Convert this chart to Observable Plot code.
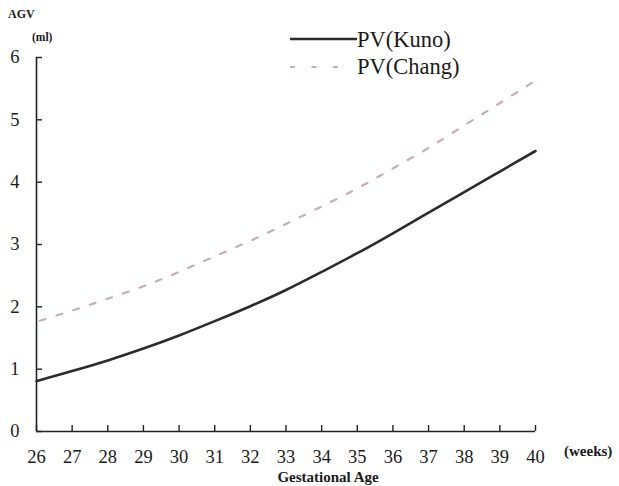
<!DOCTYPE html>
<html><head><meta charset="utf-8">
<script src="https://cdn.jsdelivr.net/npm/d3@7"></script>
<script src="https://cdn.jsdelivr.net/npm/@observablehq/plot@0.6"></script>
<style>
body{margin:0;background:#fff;}
#wrap{position:relative;width:619px;height:486px;font-family:"Liberation Serif","DejaVu Serif","Times New Roman",Times,serif;color:#1a1a1a;overflow:hidden;}
.lab{position:absolute;white-space:nowrap;line-height:1;}
#chart{position:absolute;left:0;top:0;}
</style></head><body>
<div id="wrap">
  <div id="chart"></div>
  <div class="lab" style="left:8px;top:8px;font-size:12px;font-weight:bold;">AGV</div>
  <div class="lab" style="left:32px;top:32px;font-size:11.5px;font-weight:bold;">(ml)</div>
  <div class="lab" style="left:564px;top:444px;font-size:15px;font-weight:bold;">(weeks)</div>
  <div class="lab" id="xtitle" style="left:328px;top:470px;font-size:15px;font-weight:bold;transform:translateX(-50%);">Gestational Age</div>
  <div id="legend"></div>
</div>
<script>
const weeks = [26, 27, 28, 29, 30, 31, 32, 33, 34, 35, 36, 37, 38, 39, 40];
const kuno  = [0.81, 0.97, 1.14, 1.33, 1.54, 1.77, 2.01, 2.27, 2.56, 2.86, 3.18, 3.51, 3.84, 4.17, 4.50];
const chang = [1.76, 1.94, 2.13, 2.33, 2.56, 2.81, 3.06, 3.33, 3.61, 3.90, 4.22, 4.55, 4.91, 5.27, 5.63];
const yTicks = [0, 1, 2, 3, 4, 5, 6];
const seriesNames = ["PV(Kuno)", "PV(Chang)"];

const rows = [];
weeks.forEach((w, i) => {
  rows.push({week: w, value: kuno[i], series: seriesNames[0]});
  rows.push({week: w, value: chang[i], series: seriesNames[1]});
});

const W = 619, H = 486, mL = 36, mR = 84, mT = 57, mB = 55;
const frameW = W - mL - mR, frameH = H - mT - mB;
const FONT = '"Liberation Serif","DejaVu Serif","Times New Roman",Times,serif';

const plot = Plot.plot({
  width: W, height: H,
  marginLeft: mL, marginRight: mR, marginTop: mT, marginBottom: mB,
  style: {fontFamily: FONT, fontSize: "18.5px", color: "#1a1a1a", background: "transparent"},
  x: {domain: [weeks[0], weeks[weeks.length - 1]], label: null},
  y: {domain: [yTicks[0], yTicks[yTicks.length - 1]], label: null},
  marks: [
    Plot.axisX(weeks, {tickSize: 0, tickPadding: 18, label: null, tickFormat: d => String(d), fontFamily: FONT}),
    Plot.axisY(yTicks, {tickSize: 0, tickPadding: 17, label: null, tickFormat: d => String(d), fontFamily: FONT}),
    Plot.ruleX(weeks, {x: d => d, insetTop: frameH - 6, stroke: "#222", strokeWidth: 1.4}),
    Plot.ruleY(yTicks, {y: d => d, insetRight: frameW - 6, stroke: "#222", strokeWidth: 1.4}),
    Plot.ruleY([yTicks[0]], {stroke: "#222", strokeWidth: 1.6}),
    Plot.ruleX([weeks[0]], {stroke: "#222", strokeWidth: 1.6}),
    Plot.line(rows.filter(d => d.series === seriesNames[1]), {x: "week", y: "value", curve: "natural", stroke: "#c4b0b0", strokeWidth: 2.2, strokeDasharray: "6,11.5", strokeDashoffset: 14}),
    Plot.line(rows.filter(d => d.series === seriesNames[0]), {x: "week", y: "value", curve: "natural", stroke: "#2b2b2b", strokeWidth: 2.6})
  ]
});
document.getElementById("chart").appendChild(plot);

// legend
const leg = d3.select("#legend").style("position", "absolute").style("left", "0px").style("top", "0px");
const legItems = [
  {name: seriesNames[0], stroke: "#2b2b2b", dash: null, width: 2.6, lineY: 39, textTop: 29},
  {name: seriesNames[1], stroke: "#c4b0b0", dash: "5,16.5", width: 2.2, lineY: 67, textTop: 56}
];
legItems.forEach(it => {
  const svg = leg.append("svg").style("position", "absolute").style("left", "288px").style("top", (it.lineY - 5) + "px")
    .attr("width", 70).attr("height", 10);
  svg.append("line").attr("x1", 2).attr("x2", it.dash ? 52 : 69).attr("y1", 5).attr("y2", 5)
    .attr("stroke", it.stroke).attr("stroke-width", it.width).attr("stroke-dasharray", it.dash);
  leg.append("div").attr("class", "lab").style("left", "357px").style("top", it.textTop + "px")
    .style("font-size", "22.5px").text(it.name);
});
</script>
</body></html>
